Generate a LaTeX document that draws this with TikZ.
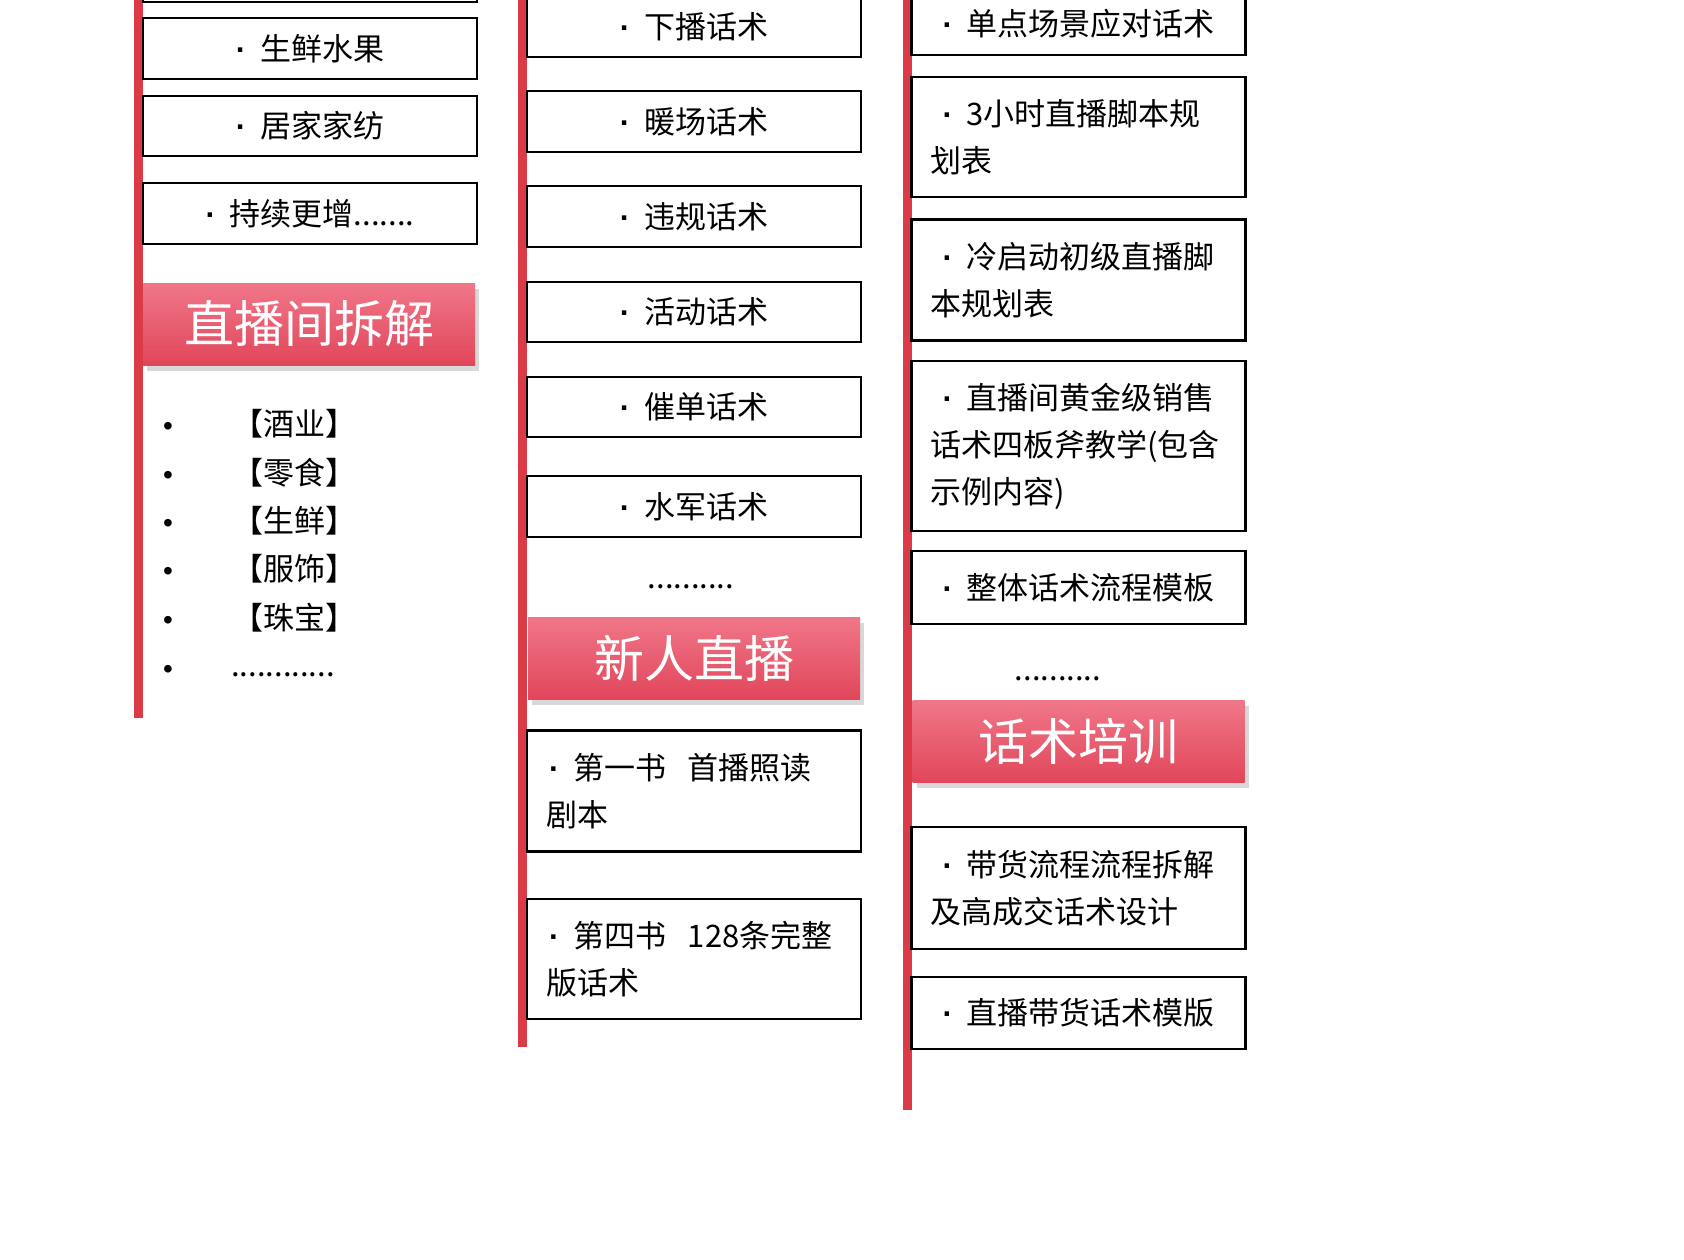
\documentclass[tikz,border=0pt]{standalone}
\usepackage{fontspec}
\setmainfont{Noto Sans CJK SC}
\newfontfamily\dotfont{Liberation Sans}
\usepackage{xcolor}
\usepackage{tikz}
\usetikzlibrary{shadows}
\definecolor{barred}{HTML}{DA3B47}
\definecolor{headtop}{HTML}{F07788}
\definecolor{headbot}{HTML}{E1465B}
\newcommand\mdot{{\dotfont\bfseries ·}\nobreak\hspace{0.45em}}

\tikzset{
  itembox/.style={draw=black, line width=1.3pt, fill=white, minimum width=167pt, inner sep=0pt,
    font=\fontsize{15.5pt}{23.5pt}\selectfont},
  longbox/.style={itembox, align=left, text width=148pt, inner xsep=9.5pt},
  headbar/.style={top color=headtop, bottom color=headbot, text=white, inner sep=0pt,
    minimum width=166pt, minimum height=41pt, font=\fontsize{25pt}{30pt}\selectfont,
    drop shadow={shadow xshift=2pt, shadow yshift=-3pt, opacity=.3}},
  listtext/.style={anchor=base, inner sep=0pt, font=\fontsize{15.5pt}{20pt}\selectfont}
}

\begin{document}
\begin{tikzpicture}[x=0.5pt,y=-0.5pt]
  \useasboundingbox (0,0) rectangle (1684,1259);
  \fill[white] (0,0) rectangle (1684,1259);
  % red bars
  \fill[barred] (134,0) rectangle (143,718);
  \fill[barred] (518,0) rectangle (527,1047);
  \fill[barred] (903,0) rectangle (912,1110);

  % first column
  \foreach \nm/\yc/\hh/\txt in {a0/-29/31/{},a1/48.5/30.5/{\mdot 生鲜水果},a2/126/30/{\mdot 居家家纺},a3/213.5/30.5/{\mdot 持续更增.......}}
    \node[itembox, minimum height=\hh pt] (\nm) at (310,\yc) {\txt};
  \node[headbar] (h1) at (309,324) {直播间拆解};
  \foreach \nm/\yy/\txt in {b1/435/【酒业】,b2/484/【零食】,b3/532/【生鲜】,b4/580/【服饰】,b5/629/【珠宝】}{
    \node[listtext] (\nm) at (294,\yy) {\txt};
    \node[listtext] (\nm d) at (168,\yy) {{\dotfont\fontsize{14pt}{15pt}\selectfont •}};
  }
  \node[listtext] (b6d) at (168,678) {{\dotfont\fontsize{14pt}{15pt}\selectfont •}};
  \node[listtext] (b6) at (283,676) {............};

  % second column
  \foreach \nm/\yc/\hh/\txt in {c1/26.5/30.5/{\mdot 下播话术},c2/121.5/30.5/{\mdot 暖场话术},c3/216.5/30.5/{\mdot 违规话术},c4/312/30/{\mdot 活动话术},c5/407/30/{\mdot 催单话术},c6/506.5/30.5/{\mdot 水军话术}}
    \node[itembox, minimum height=\hh pt] (\nm) at (694,\yc) {\txt};
  \node[listtext] (c7) at (691,588) {..........};
  \node[headbar] (h2) at (694,658) {新人直播};
  \foreach \nm/\yc/\hh/\txt in {c8/791/60.5/{\hspace*{1.5pt}\mdot 第一书\kern0.7em首播照读\\剧本},c9/959/60/{\hspace*{1.5pt}\mdot 第四书\kern0.7em128条完整\\版话术}}
    \node[longbox, minimum height=\hh pt] (\nm) at (694,\yc) {\txt};

  % third column
  \foreach \nm/\yc/\hh/\txt in {d1/23.5/31.5/{\hspace*{6pt}\mdot 单点场景应对话术},d2/137/60/{\hspace*{6pt}\mdot 3小时直播脚本规\\划表},d3/280/60.5/{\hspace*{6pt}\mdot 冷启动初级直播脚\\本规划表},d4/446/85/{\hspace*{6pt}\mdot 直播间黄金级销售\\话术四板斧教学(包含\\示例内容)},d5/587.5/36.5/{\hspace*{6pt}\mdot 整体话术流程模板}}
    \node[longbox, minimum height=\hh pt] (\nm) at (1078.5,\yc) {\txt};
  \node[listtext] (d6) at (1058,680) {..........};
  \node[headbar] (h3) at (1078.5,741) {话术培训};
  \foreach \nm/\yc/\hh/\txt in {d7/888/61/{\hspace*{6pt}\mdot 带货流程流程拆解\\及高成交话术设计},d8/1013/36/{\hspace*{6pt}\mdot 直播带货话术模版}}
    \node[longbox, minimum height=\hh pt] (\nm) at (1078.5,\yc) {\txt};
\end{tikzpicture}
\end{document}
